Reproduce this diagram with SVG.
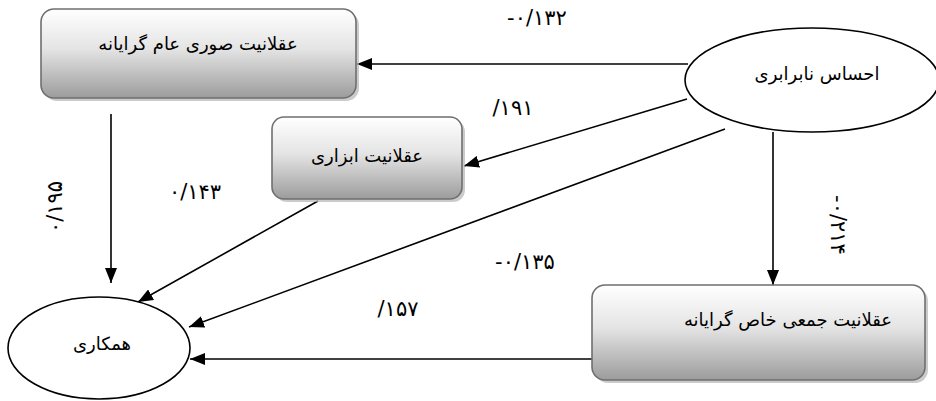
<svg xmlns="http://www.w3.org/2000/svg" width="936" height="401" viewBox="0 0 936 401">
<style>
.box{stroke:#6f6f6f;stroke-width:1.6;fill:url(#g)}
.shadow{fill:#b5b5b5;opacity:0.7}
.ell{fill:#ffffff;stroke:#000;stroke-width:1.6}
.lbl{font-family:"DejaVu Sans",sans-serif;font-size:18px;fill:#000}
.num{font-family:"DejaVu Sans",sans-serif;font-size:21px;letter-spacing:2px;fill:#000}
.conn line{stroke:#000;stroke-width:1.6;marker-end:url(#ah)}
</style>
<defs>
<linearGradient id="g" x1="0" y1="0" x2="0" y2="1">
<stop offset="0" stop-color="#ffffff"/>
<stop offset="0.45" stop-color="#e4e4e4"/>
<stop offset="1" stop-color="#9c9c9c"/>
</linearGradient>
<marker id="ah" markerUnits="userSpaceOnUse" markerWidth="16" markerHeight="12" refX="15" refY="6" orient="auto">
<path d="M0,0 L15,6 L0,12 z" fill="#000"/>
</marker>
</defs>
<rect width="936" height="401" fill="#fff"/>
<g id="conns" class="conn">
<line x1="688" y1="64" x2="357" y2="64"/>
<line x1="687" y1="99" x2="464" y2="166"/>
<line x1="725" y1="129" x2="189" y2="327"/>
<line x1="773" y1="132" x2="773" y2="285"/>
<line x1="111" y1="114" x2="111" y2="283"/>
<line x1="318" y1="201" x2="138" y2="302"/>
<line x1="592" y1="359" x2="190" y2="359"/>
</g>
<g id="n-sori">
<rect class="shadow" x="44" y="12" width="315" height="89" rx="13"/>
<rect class="box" x="41" y="9" width="315" height="89" rx="13"/>
<text class="lbl" x="198" y="50" text-anchor="middle" direction="rtl">عقلانیت  صوری عام گرایانه</text>
</g>
<g id="n-abzari">
<rect class="shadow" x="275" y="120" width="190" height="82" rx="12"/>
<rect class="box" x="272" y="117" width="190" height="82" rx="12"/>
<text class="lbl" x="367" y="162" text-anchor="middle" direction="rtl">عقلانیت ابزاری</text>
</g>
<g id="n-jami">
<rect class="shadow" x="595" y="288" width="333" height="95" rx="13"/>
<rect class="box" x="592" y="285" width="333" height="95" rx="13"/>
<text class="lbl" x="788" y="326" text-anchor="middle" direction="rtl">عقلانیت جمعی خاص گرایانه</text>
</g>
<g id="n-ehsas">
<ellipse class="ell" cx="812" cy="80" rx="127" ry="52"/>
<text class="lbl" x="817" y="80" text-anchor="middle" direction="rtl">احساس نابرابری</text>
</g>
<g id="n-hamkari">
<ellipse class="ell" cx="99" cy="348" rx="91" ry="51"/>
<text class="lbl" x="102" y="350" text-anchor="middle" direction="rtl">همکاری</text>
</g>
<g id="labels">
<text class="num" x="537" y="25" text-anchor="middle" direction="ltr">-۰/۱۳۲</text>
<text class="num" x="513" y="115" text-anchor="middle" direction="ltr">/۱۹۱</text>
<text class="num" x="195" y="199" text-anchor="middle" direction="ltr">۰/۱۴۳</text>
<text class="num" x="525" y="269" text-anchor="middle" direction="ltr">-۰/۱۳۵</text>
<text class="num" x="398" y="316" text-anchor="middle" direction="ltr">/۱۵۷</text>
<text class="num" transform="translate(62,207) rotate(-90)" text-anchor="middle" direction="ltr">۰/۱۹۵</text>
<text class="num" transform="translate(831,225) rotate(90)" text-anchor="middle" direction="ltr">-۰/۲۱۴</text>
</g>
</svg>
